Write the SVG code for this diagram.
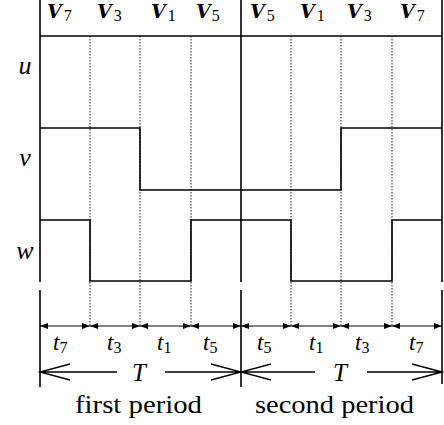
<svg xmlns="http://www.w3.org/2000/svg" width="444" height="425" viewBox="0 0 444 425">
<style>
.ax{stroke:#000;stroke-width:1.6;fill:none}
.wave{stroke:#000;stroke-width:1.6;fill:none}
.dot{stroke:#222;stroke-width:1;stroke-dasharray:1.5 1.5;fill:none}
.dim{stroke:#000;stroke-width:1;fill:none;marker-start:url(#ah);marker-end:url(#ah)}
.big{stroke:#000;stroke-width:1.3;fill:none}
.lab{font-family:"Liberation Serif",serif;font-style:italic;fill:#000}
.vl{font-family:"DejaVu Serif",serif;font-style:italic;font-weight:700;font-size:19px;fill:#000}
.sub{font-family:"Liberation Serif",serif;font-style:normal;font-weight:normal;font-size:16px}
.cap{font-family:"Liberation Serif",serif;font-size:25px;fill:#000}
</style>
<defs>
<marker id="ah" viewBox="0 0 8 6" refX="8" refY="3" markerWidth="8" markerHeight="6" markerUnits="userSpaceOnUse" orient="auto-start-reverse">
<path d="M0,0 L8,3 L0,6 z" fill="#000"/>
</marker>
</defs>
<rect width="444" height="425" fill="#fff"/>
<g id="grid">
<path class="dot" d="M90,36V326M140,36V326M191,36V326M291,36V326M341,36V326M392,36V326"/>
<path class="ax" d="M40,0V282M40,290V387M241,0V282M241,290V387M442,0V282M442,290V384"/>
</g>
<g id="header">
<text class="vl" x="47" y="18">V<tspan class="sub" dx="2" dy="3">7</tspan></text>
<text class="vl" x="97" y="18">V<tspan class="sub" dx="2" dy="3">3</tspan></text>
<text class="vl" x="151" y="18">V<tspan class="sub" dx="2" dy="3">1</tspan></text>
<text class="vl" x="196" y="18">V<tspan class="sub" dx="1" dy="3">5</tspan></text>
<text class="vl" x="250" y="18">V<tspan class="sub" dx="2" dy="3">5</tspan></text>
<text class="vl" x="300" y="18">V<tspan class="sub" dx="2" dy="3">1</tspan></text>
<text class="vl" x="347" y="18">V<tspan class="sub" dx="2" dy="3">3</tspan></text>
<text class="vl" x="400" y="18">V<tspan class="sub" dx="2" dy="3">7</tspan></text>
</g>
<g id="u">
<text class="lab" x="25" y="74" font-size="26" text-anchor="middle">u</text>
<path class="wave" d="M40,36H442"/>
</g>
<g id="v">
<text class="lab" x="25" y="166" font-size="26" text-anchor="middle">v</text>
<path class="wave" d="M40,128H140V190H341V128H442"/>
</g>
<g id="w">
<text class="lab" x="25" y="259" font-size="26" text-anchor="middle">w</text>
<path class="wave" d="M40,220H90V281H191V220H291V281H392V220H442"/>
</g>
<g id="connectors">
<path class="dim" d="M40,326H90"/>
<path class="dim" d="M90,326H140"/>
<path class="dim" d="M140,326H191"/>
<path class="dim" d="M191,326H241"/>
<path class="dim" d="M241,326H291"/>
<path class="dim" d="M291,326H341"/>
<path class="dim" d="M341,326H392"/>
<path class="dim" d="M392,326H442"/>
<path class="big" d="M40,372H117M70,364L40,372L70,380M165,372H241M211,364L241,372L211,380"/>
<path class="big" d="M241,372H315M271,364L241,372L271,380M367,372H442M412,364L442,372L412,380"/>
</g>
<g id="tlabels">
<text class="lab" x="53" y="350" font-size="23">t<tspan font-style="normal" font-size="16" dy="3">7</tspan></text>
<text class="lab" x="107" y="350" font-size="23">t<tspan font-style="normal" font-size="16" dy="3">3</tspan></text>
<text class="lab" x="157" y="350" font-size="23">t<tspan font-style="normal" font-size="16" dy="3">1</tspan></text>
<text class="lab" x="203" y="350" font-size="23">t<tspan font-style="normal" font-size="16" dy="3">5</tspan></text>
<text class="lab" x="257" y="350" font-size="23">t<tspan font-style="normal" font-size="16" dy="3">5</tspan></text>
<text class="lab" x="309" y="350" font-size="23">t<tspan font-style="normal" font-size="16" dy="3">1</tspan></text>
<text class="lab" x="355" y="350" font-size="23">t<tspan font-style="normal" font-size="16" dy="3">3</tspan></text>
<text class="lab" x="409" y="350" font-size="23">t<tspan font-style="normal" font-size="16" dy="3">7</tspan></text>
<text class="lab" x="139" y="381" font-size="25" text-anchor="middle">T</text>
<text class="lab" x="340" y="381" font-size="25" text-anchor="middle">T</text>
</g>
<g id="captions">
<text class="cap" x="75" y="413" textLength="127" lengthAdjust="spacingAndGlyphs">first period</text>
<text class="cap" x="255" y="413" textLength="159" lengthAdjust="spacingAndGlyphs">second period</text>
</g>
</svg>
